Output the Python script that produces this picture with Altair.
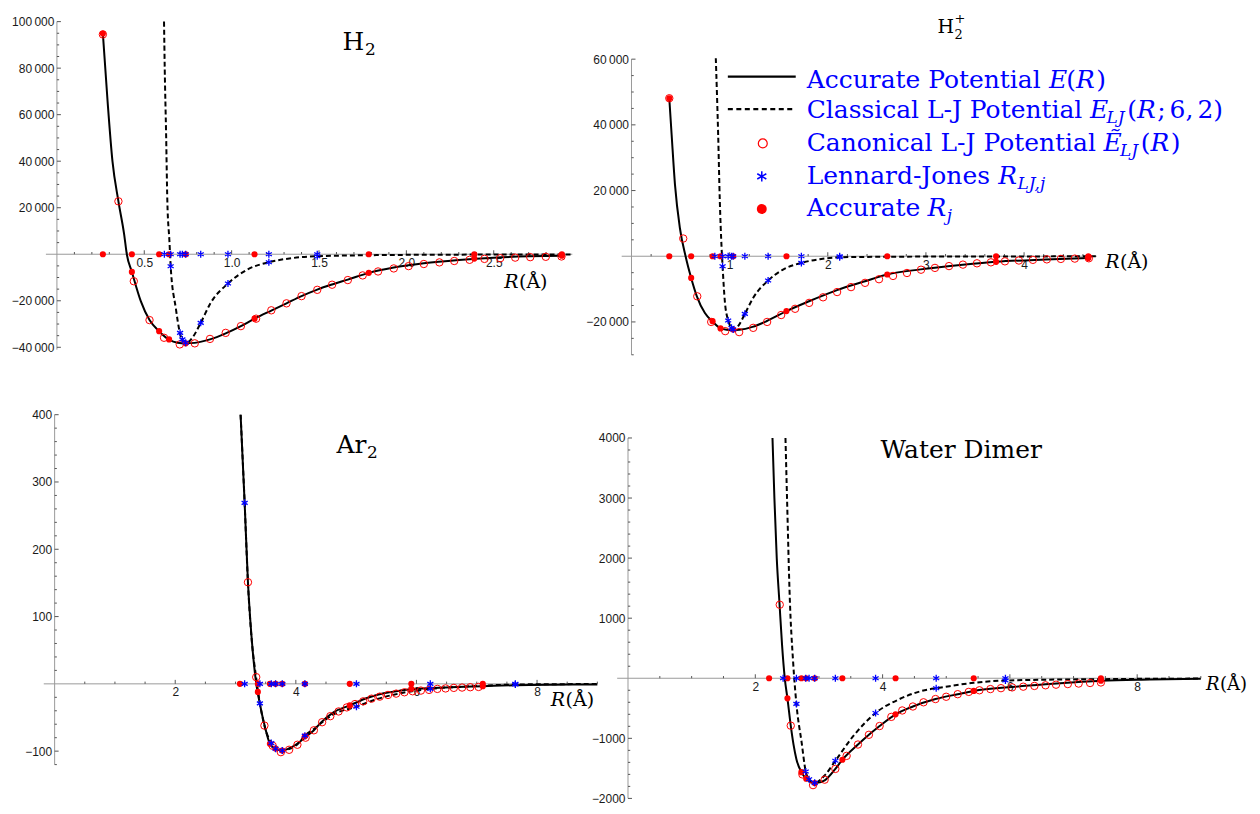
import altair as alt
import pandas as pd

# ======================= DATA =======================
# ---- H2 ----
h2_acc_R = [0.263, 0.29, 0.318, 0.352, 0.385, 0.40, 0.429, 0.48, 0.53, 0.587, 0.644, 0.69, 0.737, 0.789,
            0.876, 0.966, 1.053, 1.131, 1.227, 1.314, 1.40, 1.49, 1.575, 1.665, 1.785, 1.928, 2.10, 2.30,
            2.50, 2.70, 2.89]
h2_acc_E = [94850, 65700, 39900, 22750, 8450, 0, -7600, -20170, -28300, -33300, -36800, -38000, -38300,
            -38100, -36600, -34000, -30900, -27700, -24200, -21100, -18000, -15200, -13000, -10900, -8000,
            -5700, -3900, -2500, -1500, -900, -600]
h2_lj_R = [0.613, 0.617, 0.625, 0.632, 0.644, 0.651, 0.68, 0.703, 0.714, 0.727, 0.737, 0.775, 0.823, 0.88,
           0.979, 1.09, 1.213, 1.356, 1.49, 1.8, 2.2, 2.6, 2.95]
h2_lj_E = [100000, 80000, 51400, 22750, 5580, -5150, -23000, -33500, -36600, -37800, -38300, -35900, -29480,
           -20900, -12580, -6570, -3430, -1570, -860, -400, -200, -120, -80]
h2_can_R = [0.263, 0.352, 0.44, 0.53, 0.613, 0.703, 0.789, 0.876, 0.966, 1.053, 1.14, 1.227, 1.314, 1.40,
            1.49, 1.575, 1.665, 1.75, 1.838, 1.928, 2.013, 2.10, 2.189, 2.274, 2.362, 2.447, 2.537, 2.623,
            2.709, 2.798, 2.888]
h2_can_E = [94500, 22750, -11600, -28300, -35900, -38760, -38300, -36400, -33800, -30900, -27700, -24100,
            -21100, -18000, -15300, -13100, -11100, -9100, -7400, -6100, -5100, -4200, -3500, -2900, -2400,
            -2000, -1700, -1450, -1250, -1100, -950]
h2_Rj = [0.263, 0.429, 0.585, 0.642, 0.737, 1.131, 1.785, 2.389, 2.89]
h2_Rj_E = [94850, -7600, -33050, -36600, -38300, -27700, -8000, -1850, -600]
h2_RLJ = [0.615, 0.651, 0.705, 0.718, 0.737, 0.823, 0.979, 1.213, 1.49]
h2_RLJ_E = [None, -5150, -33780, -36600, -38070, -29480, -12580, -3430, -860]

# ---- H2+ ----
h2p_acc_R = [0.385, 0.409, 0.443, 0.493, 0.551, 0.608, 0.666, 0.748, 0.826, 0.907, 0.97, 1.036, 1.10,
             1.233, 1.375, 1.579, 1.809, 2.094, 2.379, 2.606, 2.945, 3.375, 3.715, 4.22, 4.655]
h2p_acc_E = [48100, 37000, 21800, 8600, 0, -6600, -12200, -17300, -19900, -21900, -22400, -22500, -22400,
             -21500, -19800, -16700, -13700, -10300, -7600, -5560, -4000, -2600, -1700, -1000, -550]
h2p_lj_R = [0.859, 0.883, 0.90, 0.918, 0.928, 0.951, 0.985, 1.019, 1.04, 1.086, 1.155, 1.239, 1.392, 1.544,
            1.731, 1.918, 2.121, 2.5, 3.0, 3.7, 4.74]
h2p_lj_E = [60300, 37000, 16700, 2500, -3040, -13700, -19550, -21800, -22400, -21300, -17540, -12700, -7390,
            -4050, -2030, -900, -300, -180, -100, -60, -30]
h2p_can_R = [0.385, 0.527, 0.670, 0.812, 0.955, 1.097, 1.24, 1.382, 1.525, 1.667, 1.81, 1.952, 2.095, 2.237,
             2.38, 2.522, 2.665, 2.807, 2.95, 3.092, 3.235, 3.377, 3.52, 3.662, 3.805, 3.947, 4.09, 4.232,
             4.375, 4.517, 4.66]
h2p_can_E = [48100, 5400, -12200, -20000, -22800, -23100, -21800, -20000, -17900, -16000, -14200, -12500,
             -10900, -9400, -8100, -7000, -6000, -5100, -4100, -3550, -3000, -2550, -2150, -1850, -1550,
             -1300, -1100, -950, -820, -720, -620]
h2p_Rj = [0.385, 0.608, 0.826, 0.907, 1.036, 1.579, 2.606, 3.715, 4.655]
h2p_Rj_E = [48100, -6600, -19760, -21980, -22290, -16700, -5560, -1700, -550]
h2p_RLJ = [0.849, 0.928, 0.985, 1.019, 1.036, 1.155, 1.392, 1.731, 2.121]
h2p_RLJ_E = [None, -3040, -19550, -21800, -22300, -17540, -7390, -2030, -300]

# ---- Ar2 ----
ar_acc_R = [3.084, 3.151, 3.206, 3.262, 3.344, 3.40, 3.482, 3.57, 3.664, 3.775, 3.885, 4.023, 4.16, 4.30,
            4.41, 4.63, 4.894, 5.18, 5.457, 5.733, 6.01, 6.285, 6.56, 7.10, 7.64, 8.3, 9.0]
ar_acc_E = [400, 269, 151, 74, 0, -28, -62, -89, -97, -99, -96, -89, -79, -69, -58, -42, -32, -21, -14,
            -10, -7.4, -6, -5, -3.5, -2, -1.2, -0.8]
ar_lj_R = [3.084, 3.151, 3.206, 3.262, 3.344, 3.404, 3.482, 3.593, 3.664, 3.775, 3.885, 4.023, 4.15, 4.30,
           4.41, 4.63, 5.005, 5.3, 5.733, 6.23, 6.8, 7.64, 8.3, 9.0]
ar_lj_E = [400, 269, 150, 72, 8, -29, -63, -88, -96.5, -99, -97, -90, -77, -67, -59, -45, -34, -24, -14,
           -7.4, -4, -1, -0.5, -0.3]
ar_can_R = [3.206, 3.343, 3.479, 3.616, 3.752, 3.889, 4.026, 4.162, 4.299, 4.436, 4.572, 4.709, 4.845,
            4.982, 5.118, 5.255, 5.391, 5.528, 5.664, 5.801, 5.937, 6.074, 6.21, 6.347, 6.483, 6.62, 6.757,
            6.893, 7.03]
ar_can_E = [151, 10, -62, -92, -101.5, -98, -90.5, -80, -69, -57, -48, -41, -35, -30, -26, -22, -19, -16.5,
            -14.5, -12.5, -11, -10, -9, -7.5, -6.8, -6, -5.5, -5, -4.6]
ar_Rj = [3.073, 3.37, 3.57, 3.664, 3.775, 4.15, 4.894, 5.915, 7.10]
ar_Rj_E = [None, -12, -89, -96, -99, -78, -32, -7.4, -3.5]
ar_RLJ = [3.151, 3.404, 3.593, 3.664, 3.775, 4.15, 5.005, 6.23, 7.64]
ar_RLJ_E = [269, -29, -88, -96.5, -99, -77, -34, -7.4, -1]

# ---- Water dimer ----
w_acc_R = [2.27, 2.30, 2.337, 2.38, 2.42, 2.463, 2.505, 2.557, 2.60, 2.646, 2.724, 2.80, 2.88, 2.95, 3.09,
           3.258, 3.368, 3.613, 3.785, 3.953, 4.204, 4.476, 4.831, 5.18, 5.432, 6.035, 6.56, 7.08, 7.43,
           8.2, 9.0]
w_acc_E = [4000, 3000, 2000, 1250, 560, 0, -334, -789, -1100, -1347, -1563, -1671, -1735, -1745, -1700,
           -1509, -1357, -1103, -941, -795, -600, -470, -346, -265, -211, -145, -100, -62, -40, -20, -8]
w_lj_R = [2.474, 2.499, 2.541, 2.594, 2.646, 2.729, 2.792, 2.845, 2.933, 3.09, 3.258, 3.535, 3.89, 4.267,
          4.737, 4.842, 5.432, 5.93, 7.43, 9.0]
w_lj_E = [4000, 2981, 1358, 276, -427, -1076, -1552, -1682, -1741, -1617, -1374, -968, -578, -346, -183,
          -167, -75, -37, -15, -5]
w_can_R = [2.384, 2.557, 2.74, 2.907, 3.09, 3.258, 3.435, 3.613, 3.785, 3.953, 4.137, 4.309, 4.476, 4.643,
           4.831, 4.999, 5.18, 5.354, 5.521, 5.694, 5.86, 6.035, 6.21, 6.385, 6.56, 6.725, 6.91, 7.08, 7.26,
           7.43]
w_can_E = [1224, -789, -1600, -1779, -1688, -1509, -1292, -1103, -941, -795, -643, -536, -470, -400, -346,
           -308, -265, -227, -200, -180, -165, -152, -140, -128, -117, -107, -97, -88, -79, -70]
w_Rj = [2.217, 2.505, 2.724, 2.80, 2.933, 3.368, 4.204, 5.432, 7.43]
w_Rj_E = [None, -334, -1563, -1671, -1745, -1357, -600, -211, -40]
w_RLJ = [2.437, 2.646, 2.792, 2.845, 2.933, 3.258, 3.89, 4.842, 5.93]
w_RLJ_E = [None, -427, -1552, -1682, -1741, -1374, -578, -167, -37]

# tick labels
h2_xlab = [0.5, 1.0, 1.5, 2.0, 2.5]
h2_ylab = [-40000, -20000, 20000, 40000, 60000, 80000, 100000]
h2p_xlab = [1, 2, 3, 4]
h2p_ylab = [-20000, 20000, 40000, 60000]
ar_xlab = [2, 4, 6, 8]
ar_ylab = [-100, 100, 200, 300, 400]
w_xlab = [2, 4, 6, 8]
w_ylab = [-2000, -1000, 1000, 2000, 3000, 4000]

legend_labels = ["Accurate Potential", "Classical L-J Potential", "Canonical L-J Potential",
                 "Lennard-Jones", "Accurate"]

# ======================= STYLE =======================
FONT_SANS = "Liberation Sans"
FONT_SERIF = "DejaVu Serif"
RED = "#ff0000"
BLUE = "#0000ff"
AXIS_GREY = "#9a9a9a"
TICK_GREY = "#555555"
STAR = "M0,-1V1M-0.866,-0.5L0.866,0.5M-0.866,0.5L0.866,-0.5"
TICK_UP = "M0,0V-1"
TICK_RIGHT = "M0,0H1"
THIN = "replace(format(datum.value, ','), ',', '\u2009')"
INT = "format(datum.value, 'd')"

# approx advance widths (em) of DejaVu Serif, used only to chain legend text pieces
W = {' ': 0.318, 'A': 0.722, 'C': 0.698, 'E': 0.656, 'J': 0.472, 'L': 0.637, 'P': 0.673, 'R': 0.770,
     'a': 0.596, 'c': 0.561, 'd': 0.642, 'e': 0.592, 'i': 0.320, 'j': 0.320, 'l': 0.320, 'n': 0.644,
     'o': 0.602, 'r': 0.478, 's': 0.513, 't': 0.402, 'u': 0.644, '-': 0.338, '(': 0.391, ')': 0.391,
     ';': 0.337, ',': 0.318, '6': 0.636, '2': 0.636, '\u1ebc': 0.656}


def tw(s, size):
    return sum(W.get(c, 0.6) for c in s) * size


def minor_ticks(lo, hi, step, major):
    out = []
    for n in range(int(round(lo / step)), int(round(hi / step)) + 1):
        v = round(n * step, 6)
        if v == 0 or abs(v / major - round(v / major)) < 1e-6:
            continue
        out.append(v)
    return out


def pts(R, E):
    return pd.DataFrame([{"R": r, "E": e} for r, e in zip(R, E) if e is not None])


ONE = alt.InlineData(values=[{}])


def text(t, x, y, size, italic=False, color="black", font=FONT_SERIF):
    kw = dict(text=t, font=font, fontSize=size, align="left", baseline="alphabetic", color=color)
    if italic:
        kw["fontStyle"] = "italic"
    return alt.Chart(ONE).mark_text(**kw).encode(x=alt.value(x), y=alt.value(y))


def panel(cfg):
    left, top, w, h = cfg["box"]
    ox, kx, oy, ky = cfg["map"]
    xdom = [(left - ox) / kx, (left + w - ox) / kx]
    ydom = [(oy - (top + h)) / ky, (oy - top) / ky]
    x0 = ox - left
    y0 = oy - top
    sx = alt.Scale(domain=xdom, nice=False, zero=False)
    sy = alt.Scale(domain=ydom, nice=False, zero=False)
    common = dict(ticks=False, domain=False, grid=False, title=None, labelFont=FONT_SANS,
                  labelFontSize=12, labelColor="#1a1a1a", labelPadding=3, labelOverlap=False,
                  labelFlush=False, labelBound=False, minExtent=0)
    axx = alt.Axis(values=cfg["xlab"], labelExpr=cfg["xexpr"], offset=y0 - h, **common)
    axy = alt.Axis(values=cfg["ylab"], labelExpr=cfg["yexpr"], offset=-x0, **common)
    X = alt.X("R:Q", scale=sx, axis=axx)
    Y = alt.Y("E:Q", scale=sy, axis=axy)

    L = []
    xa, xb = cfg["xline"]
    ya, yb = cfg["yline"]
    L.append(alt.Chart(pd.DataFrame({"R": [xa], "R2": [xb], "E": [0]}))
             .mark_rule(color=AXIS_GREY, strokeWidth=1).encode(x=X, x2="R2:Q", y=Y))
    L.append(alt.Chart(pd.DataFrame({"R": [0], "E": [ya], "E2": [yb]}))
             .mark_rule(color=AXIS_GREY, strokeWidth=1).encode(x=X, y=Y, y2="E2:Q"))
    # inward ticks (Mathematica style)
    for vals, size in ((cfg["xlab"], 64), (cfg["xminor"], 20)):
        L.append(alt.Chart(pd.DataFrame({"R": vals, "E": 0}))
                 .mark_point(shape=TICK_UP, filled=False, color=TICK_GREY, strokeWidth=1, size=size, opacity=1)
                 .encode(x=X, y=Y))
    for vals, size in ((cfg["ylab"], 64), (cfg["yminor"], 20)):
        L.append(alt.Chart(pd.DataFrame({"R": 0, "E": vals}))
                 .mark_point(shape=TICK_RIGHT, filled=False, color=TICK_GREY, strokeWidth=1, size=size, opacity=1)
                 .encode(x=X, y=Y))
    # curves
    L.append(alt.Chart(pts(*cfg["acc"])).mark_line(color="black", strokeWidth=2, interpolate="monotone")
             .encode(x=X, y=Y))
    L.append(alt.Chart(pts(*cfg["lj"])).mark_line(color="black", strokeWidth=2, strokeDash=[5, 3],
                                                  interpolate="monotone").encode(x=X, y=Y))
    # canonical L-J points
    L.append(alt.Chart(pts(*cfg["can"])).mark_point(shape="circle", filled=False, color=RED, size=55,
                                                    strokeWidth=1, opacity=1).encode(x=X, y=Y))
    # accurate R_j (on curve + on axis)
    rj, rjE = cfg["rj"]
    rj_df = pd.concat([pts(rj, rjE), pd.DataFrame({"R": rj, "E": 0})], ignore_index=True)
    L.append(alt.Chart(rj_df).mark_circle(color=RED, size=38, opacity=1).encode(x=X, y=Y))
    # Lennard-Jones R_LJ,j
    rl, rlE = cfg["rlj"]
    rl_df = pd.concat([pts(rl, rlE), pd.DataFrame({"R": rl, "E": 0})], ignore_index=True)
    L.append(alt.Chart(rl_df).mark_point(shape=STAR, filled=False, color=BLUE, size=49, strokeWidth=1.3,
                                         opacity=1).encode(x=X, y=Y))
    L.extend(cfg["extra"])
    return alt.layer(*L).properties(width=w, height=h)


def axis_title(x, y, size=19):
    return [text("R", x, y, size, italic=True), text("(\u00c5)", x + 0.78 * size, y, size)]


# ---------------- legend (inside H2+ panel, local coords) ----------------
def chain(x, y, segs, color=BLUE):
    out = []
    for s in segs:
        if isinstance(s, (int, float)):
            x += s
            continue
        t, size, it, dy = s
        out.append(text(t, x, y + dy, size, italic=it, color=color))
        x += tw(t, size)
    return out


LX = 207
FS = 25
SS = 17
legend_rows = [
    [(legend_labels[0], FS, False, 0), 7, ("E", FS, True, 0), 1, ("(", FS, False, 0), ("R", FS, True, 0), 1,
     (")", FS, False, 0)],
    [(legend_labels[1], FS, False, 0), 7, ("E", FS, True, 0), 0, ("LJ", SS, True, 5), 2, ("(", FS, False, 0),
     ("R", FS, True, 0), 1, (";", FS, False, 0), 4, ("6,", FS, False, 0), 4, ("2)", FS, False, 0)],
    [(legend_labels[2], FS, False, 0), 7, ("\u1ebc", FS, True, 0), 0, ("LJ", SS, True, 5), 2,
     ("(", FS, False, 0), ("R", FS, True, 0), 1, (")", FS, False, 0)],
    [(legend_labels[3], FS, False, 0), 7, ("R", FS, True, 0), 0, ("LJ,j", SS, True, 5)],
    [(legend_labels[4], FS, False, 0), 7, ("R", FS, True, 0), 0, ("j", SS, True, 5)],
]
legend_base = [78, 109, 142, 175, 207]
legend = []
for row, yb in zip(legend_rows, legend_base):
    legend += chain(LX, yb, row)
legend.append(alt.Chart(ONE).mark_rule(color="black", strokeWidth=2.2)
              .encode(x=alt.value(128), x2=alt.value(196), y=alt.value(67)))
legend.append(alt.Chart(ONE).mark_rule(color="black", strokeWidth=2.2, strokeDash=[5, 3.5])
              .encode(x=alt.value(128), x2=alt.value(194), y=alt.value(99.7)))
legend.append(alt.Chart(ONE).mark_point(shape="circle", filled=False, color=RED, size=80, strokeWidth=1.2,
                                        opacity=1).encode(x=alt.value(163), y=alt.value(134)))
legend.append(alt.Chart(ONE).mark_point(shape=STAR, filled=False, color=BLUE, size=110, strokeWidth=1.5,
                                        opacity=1).encode(x=alt.value(162), y=alt.value(167)))
legend.append(alt.Chart(ONE).mark_circle(color=RED, size=100, opacity=1)
              .encode(x=alt.value(162), y=alt.value(199.7)))

# ======================= PANELS =======================
pA = panel(dict(
    box=(8, 8, 592, 377), map=(56, 175, 253, 0.00233),
    xlab=h2_xlab, xexpr="format(datum.value, '.1f')", ylab=h2_ylab, yexpr=THIN,
    xminor=minor_ticks(0.1, 2.9, 0.1, 0.5), yminor=minor_ticks(-40000, 100000, 5000, 20000),
    xline=(-0.063, 2.95), yline=(-41000, 100000),
    acc=(h2_acc_R, h2_acc_E), lj=(h2_lj_R, h2_lj_E), can=(h2_can_R, h2_can_E),
    rj=(h2_Rj, h2_Rj_E), rlj=(h2_RLJ, h2_RLJ_E),
    extra=[text("H", 334, 40, 25), text("2", 356.5, 45, 17)] + axis_title(496, 279),
))
pB = panel(dict(
    box=(600, 8, 652, 377), map=(631.5, 98.3, 255, 0.00329),
    xlab=h2p_xlab, xexpr=INT, ylab=h2p_ylab, yexpr=THIN,
    xminor=minor_ticks(0.2, 4.6, 0.2, 1), yminor=minor_ticks(-30000, 60000, 5000, 20000),
    xline=(-0.1, 4.74), yline=(-30000, 60000),
    acc=(h2p_acc_R, h2p_acc_E), lj=(h2p_lj_R, h2p_lj_E), can=(h2p_can_R, h2p_can_E),
    rj=(h2p_Rj, h2p_Rj_E), rlj=(h2p_RLJ, h2p_RLJ_E),
    extra=[text("H", 338, 23, 19), text("+", 355, 13, 13), text("2", 355, 29, 13)]
    + axis_title(506, 259) + legend,
))
pC = panel(dict(
    box=(8, 385, 592, 419), map=(53.7, 60.4, 683.3, 0.674),
    xlab=ar_xlab, xexpr=INT, ylab=ar_ylab, yexpr=INT,
    xminor=minor_ticks(0.5, 9.0, 0.5, 2), yminor=minor_ticks(-120, 400, 20, 100),
    xline=(-0.18, 9.0), yline=(-120, 400),
    acc=(ar_acc_R, ar_acc_E), lj=(ar_lj_R, ar_lj_E), can=(ar_can_R, ar_can_E),
    rj=(ar_Rj, ar_Rj_E), rlj=(ar_RLJ, ar_RLJ_E),
    extra=[text("Ar", 328, 66.7, 25), text("2", 358.5, 71.7, 17)] + axis_title(542.7, 320),
))
pD = panel(dict(
    box=(600, 385, 652, 419), map=(628, 63.75, 677.7, 0.06017),
    xlab=w_xlab, xexpr=INT, ylab=w_ylab, yexpr=INT,
    xminor=minor_ticks(0.5, 9.0, 0.5, 2), yminor=minor_ticks(-2000, 4000, 200, 1000),
    xline=(-0.17, 9.0), yline=(-2000, 4000),
    acc=(w_acc_R, w_acc_E), lj=(w_lj_R, w_lj_E), can=(w_can_R, w_can_E),
    rj=(w_Rj, w_Rj_E), rlj=(w_RLJ, w_RLJ_E),
    extra=[text("Water Dimer", 281, 71.7, 25)] + axis_title(607, 304.5, 18),
))

chart = (alt.concat(pA, pB, pC, pD, columns=2, spacing=0, bounds="flush", align="each")
         .properties(padding=0)
         .configure_view(stroke="transparent"))

chart.save("out.html", embed_options={"renderer": "svg", "actions": False})
